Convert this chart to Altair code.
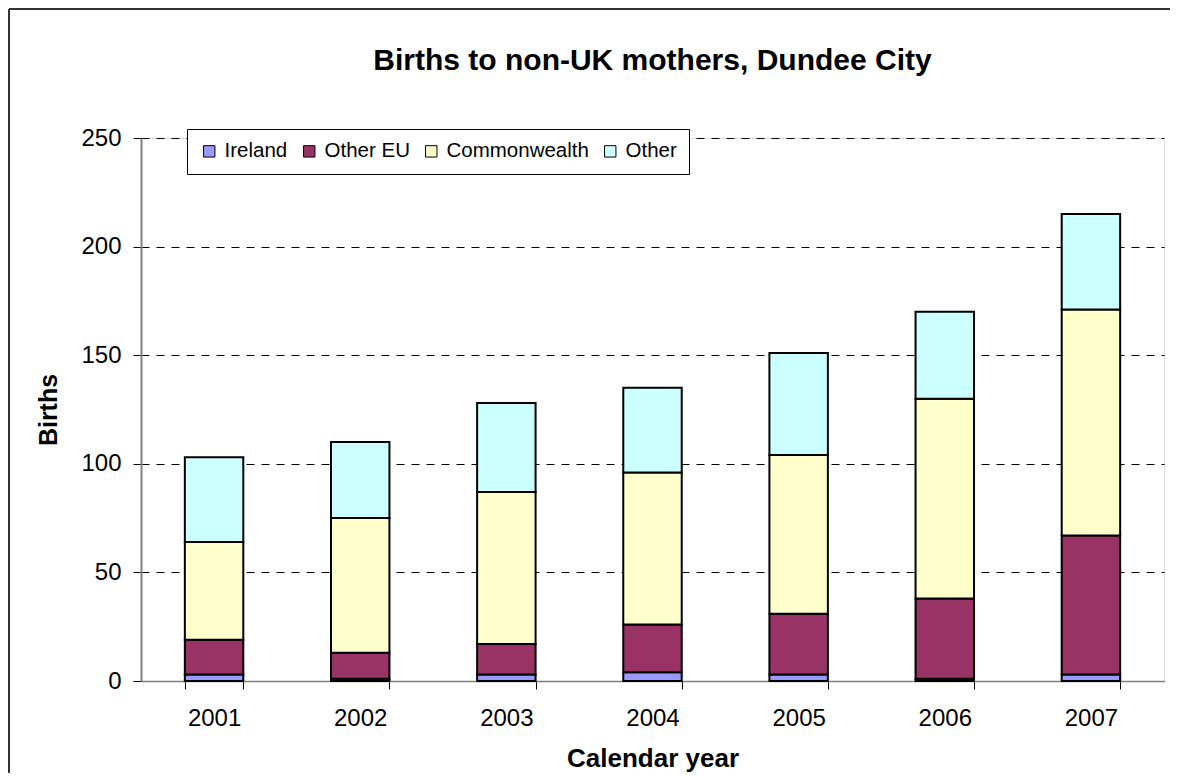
import altair as alt
import pandas as pd

years = ["2001", "2002", "2003", "2004", "2005", "2006", "2007"]
series = ["Ireland", "Other EU", "Commonwealth", "Other"]
colors = ["#9999FF", "#993366", "#FFFFCC", "#CCFFFF"]

ireland = [3, 1, 3, 4, 3, 1, 3]
other_eu = [16, 12, 14, 22, 28, 37, 64]
commonwealth = [45, 62, 70, 70, 73, 92, 104]
other = [39, 35, 41, 39, 47, 40, 44]

y_ticks = [0, 50, 100, 150, 200, 250]

rows = []
for i, yr in enumerate(years):
    for k, (name, vals) in enumerate(zip(series, [ireland, other_eu, commonwealth, other])):
        rows.append({"year": yr, "series": name, "value": vals[i], "idx": k})
df = pd.DataFrame(rows)

W, H = 1023, 543
FONT = "Liberation Sans"

bars = alt.Chart(df).mark_bar(stroke="black", strokeWidth=2).encode(
    x=alt.X(
        "year:N",
        sort=years,
        scale=alt.Scale(paddingInner=0.6, paddingOuter=0.3),
        axis=alt.Axis(
            title="Calendar year",
            labelAngle=0,
            tickBand="extent",
            tickSize=8,
            tickColor="#000000",
            tickWidth=1,
            domainColor="#808080",
            domainWidth=1.5,
            labelPadding=17,
            labelFontSize=24,
            labelFont=FONT,
            labelColor="black",
            titleFont=FONT,
            titleFontSize=26,
            titleFontWeight="bold",
            titleColor="black",
            titlePadding=15,
            grid=False,
        ),
    ),
    y=alt.Y(
        "value:Q",
        stack="zero",
        scale=alt.Scale(domain=[0, 250], nice=False),
        axis=alt.Axis(
            title="Births",
            values=y_ticks,
            grid=True,
            gridColor="#000000",
            gridDash=[8, 7],
            gridWidth=1,
            tickSize=8,
            tickColor="#000000",
            tickWidth=1,
            domainColor="#808080",
            domainWidth=2,
            labelPadding=12,
            labelFontSize=24,
            labelFont=FONT,
            labelColor="black",
            titleFont=FONT,
            titleFontSize=25,
            titleFontWeight="bold",
            titleColor="black",
            titlePadding=19,
        ),
    ),
    color=alt.Color(
        "series:N",
        scale=alt.Scale(domain=series, range=colors),
        legend=alt.Legend(
            orient="none",
            legendX=46,
            legendY=-9,
            direction="horizontal",
            title=None,
            fillColor="white",
            strokeColor="black",
            padding=12,
            symbolType="square",
            symbolSize=130,
            symbolStrokeColor="black",
            symbolStrokeWidth=1,
            symbolOpacity=1,
            labelFont=FONT,
            labelFontSize=20.5,
            labelColor="black",
            labelOffset=5,
            columnPadding=11,
        ),
    ),
    order=alt.Order("idx:Q", sort="ascending"),
)

frame_df = pd.DataFrame({"a": [0]})
left_border = alt.Chart(frame_df).mark_rule(color="#333333", strokeWidth=2).encode(
    x=alt.value(-132), y=alt.value(-129), y2=alt.value(H + 92)
)
top_border = alt.Chart(frame_df).mark_rule(color="#333333", strokeWidth=2).encode(
    x=alt.value(-132), x2=alt.value(W + 6), y=alt.value(-129)
)

chart = alt.layer(bars, left_border, top_border).properties(
    width=W,
    height=H,
    autosize=alt.AutoSizeParams(type="none"),
    padding={"left": 133, "top": 130, "right": 6, "bottom": 92},
    title=alt.TitleParams(
        "Births to non-UK mothers, Dundee City",
        font=FONT,
        fontSize=30,
        fontWeight="bold",
        color="black",
        anchor="middle",
        frame="group",
        baseline="alphabetic",
        offset=-92,
    ),
).configure_view(stroke=None).configure(background="white")

chart.save("out.html", embed_options={"renderer": "svg", "actions": False})
